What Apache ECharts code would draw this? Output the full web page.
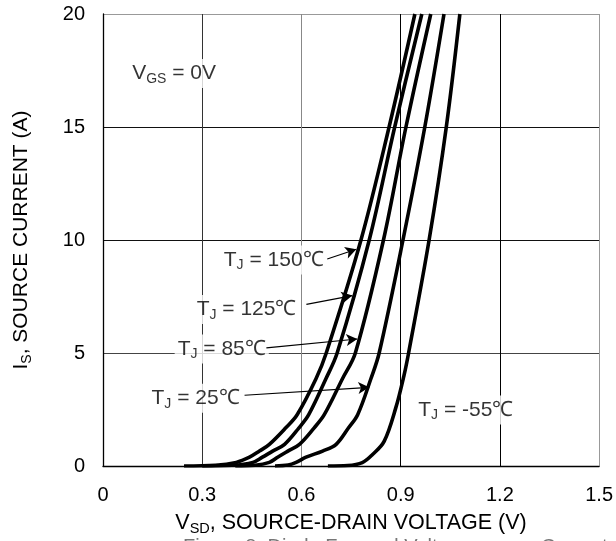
<!DOCTYPE html>
<html>
<head>
<meta charset="utf-8">
<script src="https://cdn.jsdelivr.net/npm/echarts@6/dist/echarts.min.js"></script>
<style>
html,body{margin:0;padding:0;background:#fff;}
#c{width:616px;height:541px;}
</style>
</head>
<body>
<div id="c"></div>
<script>
// Tick settings
var xTicks = [0, 0.3, 0.6, 0.9, 1.2, 1.5];
var yTicks = [0, 5, 10, 15, 20];

// Curves: [V_SD (V), I_S (A)]
var curve150 = [[0.245,0],[0.34,0.03],[0.403,0.16],[0.443,0.39],[0.473,0.66],[0.503,0.96],[0.552,1.68],[0.587,2.27],[0.644,3.86],[0.675,5],[0.780,10],[0.865,15],[0.943,20]];
var curve125 = [[0.30,0],[0.39,0.03],[0.453,0.16],[0.482,0.39],[0.513,0.66],[0.549,0.96],[0.592,1.68],[0.622,2.27],[0.674,3.86],[0.708,5],[0.805,10],[0.882,15],[0.964,20]];
var curve85  = [[0.40,0],[0.46,0.03],[0.503,0.16],[0.528,0.39],[0.559,0.66],[0.594,0.96],[0.638,1.68],[0.669,2.27],[0.724,3.86],[0.763,5],[0.848,10],[0.916,15],[0.991,20]];
var curve25  = [[0.52,0],[0.56,0.04],[0.584,0.16],[0.614,0.39],[0.664,0.66],[0.705,0.96],[0.742,1.68],[0.770,2.27],[0.810,3.86],[0.835,5],[0.907,10],[0.973,15],[1.031,20]];
var curveM55 = [[0.68,0],[0.74,0.02],[0.784,0.15],[0.815,0.51],[0.850,1.09],[0.885,2.56],[0.910,4.0],[0.924,5],[0.986,10],[1.038,15],[1.079,20]];

// Annotation labels: [V, I, text]
var labels = [
  [0.516, 9.11, '{n|T}{s|J}{n| = 150℃}'],
  [0.434, 6.93, '{n|T}{s|J}{n| = 125℃}'],
  [0.359, 5.18, '{n|T}{s|J}{n| = 85℃}'],
  [0.280, 3.00, '{n|T}{s|J}{n| = 25℃}'],
  [1.097, 2.48, '{n|T}{s|J}{n| = -55℃}'],
  [0.215, 17.37, '{n|V}{s|GS}{n| = 0V}']
];
// Arrows: [[V0, I0], [V1, I1]]
var arrows = [
  [[0.678, 9.16], [0.766, 9.59]],
  [[0.615, 7.15], [0.754, 7.54]],
  [[0.494, 5.23], [0.769, 5.62]],
  [[0.428, 3.13], [0.805, 3.48]]
];

var FONT = 'Liberation Sans, Arial, sans-serif';
var rich = {
  n: {fontSize: 21, fontFamily: FONT, color: '#000'},
  s: {fontSize: 14, fontFamily: FONT, color: '#000', verticalAlign: 'bottom', padding: [11,0,0,0]}
};
var richTitle = {
  n: {fontSize: 21.5, fontFamily: FONT, color: '#000'},
  s: {fontSize: 14.5, fontFamily: FONT, color: '#000', verticalAlign: 'bottom', padding: [11,0,0,0]}
};

function curveSeries(d) {
  return {type: 'line', data: d, showSymbol: false, smooth: 0.35,
    lineStyle: {color: '#000', width: 3.6}, clip: true, silent: true, z: 3};
}

var chart = echarts.init(document.getElementById('c'), null, {renderer: 'canvas'});
chart.setOption({
  animation: false,
  backgroundColor: '#fff',
  grid: {left: 103, right: 16, top: 14, bottom: 69, show: false},
  xAxis: {
    type: 'value', min: xTicks[0], max: xTicks[xTicks.length-1], interval: 0.3,
    axisLine: {show: true, lineStyle: {color: '#000', width: 1.3}},
    axisTick: {show: false},
    axisLabel: {color: '#000', fontSize: 20, fontFamily: FONT, margin: 19,
      formatter: function(v){ return v === 0 ? '0' : v.toFixed(1); }},
    splitLine: {show: true, lineStyle: {color: ['#000','#333','#888','#000','#000','#999'], width: 1}},
    name: '{n|V}{s|SD}{n|, SOURCE-DRAIN VOLTAGE (V)}',
    nameLocation: 'middle', nameGap: 44,
    nameTextStyle: {rich: richTitle}
  },
  yAxis: {
    type: 'value', min: yTicks[0], max: yTicks[yTicks.length-1], interval: 5,
    axisLine: {show: true, lineStyle: {color: '#000', width: 1.3}},
    axisTick: {show: false},
    axisLabel: {color: '#000', fontSize: 20, fontFamily: FONT, margin: 18},
    splitLine: {show: true, lineStyle: {color: ['#000','#444','#111','#111','#999'], width: 1}},
    name: '{n|I}{s|S}{n|, SOURCE CURRENT (A)}',
    nameLocation: 'middle', nameGap: 69,
    nameTextStyle: {rich: rich}
  },
  graphic: [{
    type: 'text', left: 183, top: 537,
    style: {text: 'Figure 8. Diode Forward Voltage versus Current', fontSize: 20, fontFamily: FONT, fill: '#777'}
  }],
  series: [
    curveSeries(curve150), curveSeries(curve125), curveSeries(curve85), curveSeries(curve25), curveSeries(curveM55),
    {
      type: 'scatter', symbolSize: 0, silent: true, z: 4,
      data: labels.map(function(l){ return {value: [l[0], l[1]], label: {formatter: l[2]}}; }),
      label: {show: true, position: 'inside', backgroundColor: '#fff', padding: [2,3,2,3], rich: rich}
    },
    {
      type: 'line', data: [], silent: true, z: 5,
      markLine: {
        silent: true, animation: false,
        symbol: ['none', 'arrow'], symbolSize: [9, 11],
        label: {show: false},
        lineStyle: {color: '#000', width: 1.2, type: 'solid'},
        data: arrows.map(function(a){ return [{coord: a[0]}, {coord: a[1]}]; })
      }
    }
  ]
});
</script>
</body>
</html>
